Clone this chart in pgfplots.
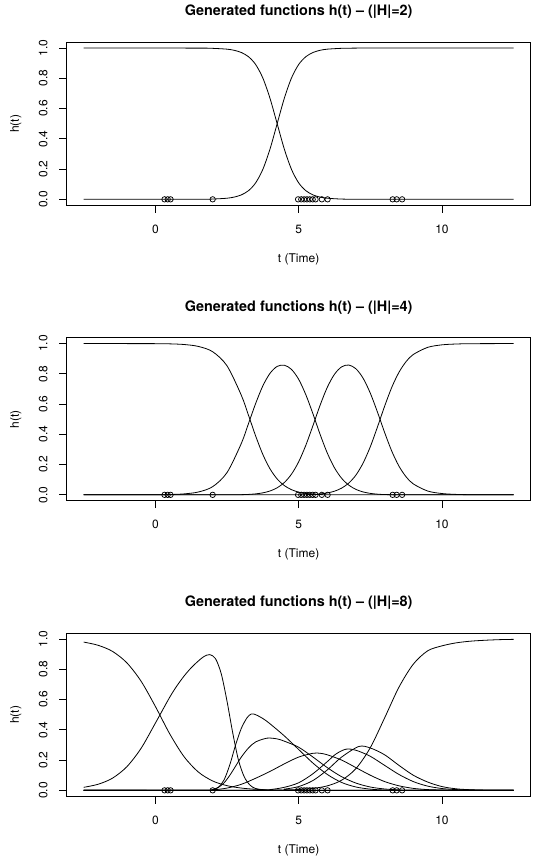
\documentclass[border=0pt]{standalone}
\usepackage{fontspec}
\setmainfont{TeX Gyre Heros}
\usepackage{pgfplots}
\pgfplotsset{compat=1.18}

\newcommand{\lab}{\fontsize{12bp}{14bp}\selectfont}
\newcommand{\ttl}{\fontsize{14.4bp}{17bp}\selectfont\bfseries}

\pgfplotsset{
  rplot/.style={
    scale only axis, width=464.3bp, height=163.4bp,
    xmin=-3.1, xmax=13.1, ymin=-0.04, ymax=1.04,
    axis line style={line width=0.8bp},
    xtick={0,5,10}, xticklabels={0,5,10},
    ytick={0,0.2,0.4,0.6,0.8,1}, yticklabels={0.0,0.2,0.4,0.6,0.8,1.0},
    tick align=outside, tick pos=left,
    major tick length=7.2bp,
    every tick/.style={black, line width=0.8bp},
    tick label style={font=\lab, inner sep=0pt},
    xticklabel style={anchor=base},
    yticklabel style={rotate=90, anchor=base},
    xticklabel shift=20.6bp, yticklabel shift=12bp,
    xlabel={t (Time)}, ylabel={h(t)},
    label style={font=\lab, inner sep=0pt},
    xlabel style={at={(axis description cs:0.5,0)}, anchor=base, yshift=-57bp},
    ylabel style={at={([xshift=-47.5bp]axis description cs:0,0.5)}, anchor=base},
    title style={at={(axis description cs:0.5,1)}, anchor=base, yshift=20.5bp, font=\ttl, inner sep=0pt},
  },
  curve/.style={black, line width=0.8bp, smooth},
  obs/.style={only marks, mark=o, mark size=2.7bp, mark options={black, line width=0.75bp}},
}

\newcommand{\obspoints}{%
  \addplot[obs] coordinates {
    (0.32,0) (0.43,0) (0.53,0) (2.0,0)
    (4.98,0) (5.09,0) (5.19,0) (5.29,0) (5.39,0) (5.49,0) (5.59,0) (5.81,0) (6.01,0)
    (8.28,0) (8.42,0) (8.61,0)
  };}

\begin{document}
\begin{tikzpicture}
\useasboundingbox (0,0) rectangle (535bp,861bp);

% |H| = 2
\begin{axis}[rplot, at={(66.5bp,655.6bp)}, anchor=south west,
  title={Generated functions h(t) -- (|H|=2)}]
\addplot[curve] coordinates {
  (-2.5,1) (1.5,0.9995) (2,0.998) (2.5,0.9926) (2.75,0.985) (3,0.9707) (3.25,0.9427)
  (3.5,0.891) (3.75,0.802) (4,0.668) (4.25,0.5) (4.5,0.332) (4.75,0.198) (5,0.109)
  (5.25,0.0573) (5.5,0.0293) (5.75,0.0148) (6,0.0074) (6.5,0.0018) (7,0.0005) (7.5,0) (12.5,0)
};
\addplot[curve] coordinates {
  (-2.5,0) (1.5,0.0005) (2,0.002) (2.5,0.0074) (2.75,0.015) (3,0.0293) (3.25,0.0573)
  (3.5,0.109) (3.75,0.198) (4,0.332) (4.25,0.5) (4.5,0.668) (4.75,0.802) (5,0.891)
  (5.25,0.9427) (5.5,0.9707) (5.75,0.9852) (6,0.9926) (6.5,0.9982) (7,0.9995) (7.5,1) (12.5,1)
};
\obspoints
\end{axis}

% |H| = 4
\begin{axis}[rplot, at={(66.5bp,360.1bp)}, anchor=south west,
  title={Generated functions h(t) -- (|H|=4)}]
\addplot[curve] coordinates {
  (-2.5,1) (0,0.9993) (0.5,0.998) (1,0.9937) (1.5,0.981) (2,0.946) (2.5,0.853)
  (3,0.658) (3.25,0.526) (3.5,0.389) (3.75,0.267) (4,0.172) (4.25,0.105) (4.5,0.0612)
  (4.75,0.0341) (5,0.0181) (5.25,0.0091) (5.5,0.0042) (5.75,0.0018) (6,0.0007)
  (6.5,0.0001) (7,0) (12.5,0)
};
\addplot[curve] coordinates {
  (-2.5,0) (0,0.0007) (0.5,0.0021) (1,0.0063) (1.5,0.0187) (2,0.054) (2.5,0.147)
  (3,0.34) (3.25,0.471) (3.5,0.604) (3.75,0.72) (4,0.803) (4.25,0.849) (4.5,0.857)
  (4.75,0.829) (5,0.764) (5.25,0.662) (5.5,0.535) (5.75,0.399) (6,0.276) (6.25,0.1786)
  (6.5,0.1093) (6.75,0.064) (7,0.0358) (7.25,0.0191) (7.5,0.0096) (7.75,0.0045)
  (8,0.002) (8.5,0.0003) (9,0) (12.5,0)
};
\addplot[curve] coordinates {
  (-2.5,0) (2,0) (2.5,0.0002) (3,0.0012) (3.25,0.0029) (3.5,0.0064) (3.75,0.0132)
  (4,0.0254) (4.25,0.0465) (4.5,0.0814) (4.75,0.1366) (5,0.218) (5.25,0.3275)
  (5.5,0.458) (5.75,0.593) (6,0.711) (6.25,0.797) (6.5,0.846) (6.75,0.858) (7,0.833)
  (7.25,0.7705) (7.5,0.672) (7.75,0.547) (8,0.412) (8.25,0.2884) (8.5,0.1896)
  (8.75,0.119) (9,0.0723) (9.5,0.0253) (10,0.0086) (10.5,0.0029) (11,0.001) (12.5,0)
};
\addplot[curve] coordinates {
  (-2.5,0) (4,0) (4.5,0.0001) (5,0.0004) (5.25,0.0011) (5.5,0.0027) (5.75,0.006)
  (6,0.0124) (6.25,0.0241) (6.5,0.0444) (6.75,0.078) (7,0.131) (7.25,0.2104)
  (7.5,0.318) (7.75,0.4486) (8,0.586) (8.25,0.711) (8.5,0.81) (8.75,0.881) (9,0.9277)
  (9.5,0.9747) (10,0.9914) (10.5,0.997) (11,0.999) (12.5,1)
};
\obspoints
\end{axis}

% |H| = 8
\begin{axis}[rplot, at={(66.5bp,64.6bp)}, anchor=south west,
  title={Generated functions h(t) -- (|H|=8)}]
\addplot[curve] coordinates {
  (-2.5,0.98) (-2,0.959) (-1.5,0.919) (-1,0.844) (-0.5,0.722) (0,0.555) (0.5,0.374)
  (1,0.223) (1.5,0.121) (2,0.062) (2.5,0.031) (3,0.015) (3.5,0.007) (4,0.003)
  (4.5,0.001) (5,0) (12.5,0)
};
\addplot[curve] coordinates {
  (-2.5,0.02) (-2,0.04) (-1.5,0.08) (-1,0.155) (-0.5,0.277) (0,0.444) (0.5,0.615)
  (0.75,0.69) (1,0.755) (1.25,0.81) (1.5,0.855) (1.7,0.885) (1.9,0.897) (2.1,0.87)
  (2.3,0.77) (2.5,0.59) (2.7,0.38) (2.9,0.2) (3.1,0.09) (3.3,0.035) (3.5,0.012)
  (3.8,0.004) (4.5,0) (12.5,0)
};
\addplot[curve] coordinates {
  (-2.5,0) (1.8,0) (2,0.004) (2.2,0.02) (2.4,0.07) (2.6,0.17) (2.8,0.3) (3,0.41)
  (3.2,0.48) (3.35,0.505) (3.5,0.5) (3.75,0.475) (4,0.44) (4.5,0.36) (5,0.27)
  (5.5,0.18) (6,0.105) (6.5,0.052) (7,0.022) (7.5,0.008) (8,0.002) (8.5,0) (12.5,0)
};
\addplot[curve] coordinates {
  (-2.5,0) (1.8,0) (2,0.005) (2.2,0.02) (2.4,0.05) (2.6,0.1) (2.8,0.16) (3,0.22)
  (3.25,0.28) (3.5,0.32) (3.9,0.345) (4.25,0.34) (4.5,0.325) (5,0.285) (5.5,0.22)
  (6,0.15) (6.5,0.09) (7,0.048) (7.5,0.022) (8,0.009) (8.5,0.003) (9,0) (12.5,0)
};
\addplot[curve] coordinates {
  (-2.5,0) (1.5,0) (2,0.003) (2.5,0.015) (3,0.04) (3.5,0.08) (4,0.125) (4.5,0.175)
  (5,0.22) (5.5,0.245) (5.75,0.245) (6,0.235) (6.5,0.2) (7,0.15) (7.5,0.1) (8,0.058)
  (8.5,0.03) (9,0.013) (9.5,0.005) (10,0.002) (10.5,0) (12.5,0)
};
\addplot[curve] coordinates {
  (-2.5,0) (3.5,0) (4,0.005) (4.5,0.02) (5,0.05) (5.5,0.11) (6,0.19) (6.3,0.24)
  (6.65,0.272) (7,0.265) (7.5,0.225) (8,0.165) (8.5,0.105) (9,0.058) (9.5,0.028)
  (10,0.012) (10.5,0.005) (11,0.002) (11.5,0) (12.5,0)
};
\addplot[curve] coordinates {
  (-2.5,0) (4,0) (4.5,0.008) (5,0.025) (5.5,0.065) (6,0.135) (6.5,0.22) (7.1,0.29)
  (7.5,0.28) (8,0.235) (8.5,0.165) (9,0.1) (9.5,0.055) (10,0.025) (10.5,0.01)
  (11,0.004) (11.5,0.001) (12,0) (12.5,0)
};
\addplot[curve] coordinates {
  (-2.5,0) (4,0) (4.5,0.0024) (5,0.0056) (5.5,0.013) (6,0.0296) (6.5,0.067) (7,0.144)
  (7.5,0.282) (8,0.479) (8.5,0.682) (9,0.834) (9.5,0.922) (10,0.955) (10.5,0.975)
  (11,0.986) (11.5,0.992) (12,0.996) (12.5,0.998)
};
\obspoints
\end{axis}
\end{tikzpicture}
\end{document}
